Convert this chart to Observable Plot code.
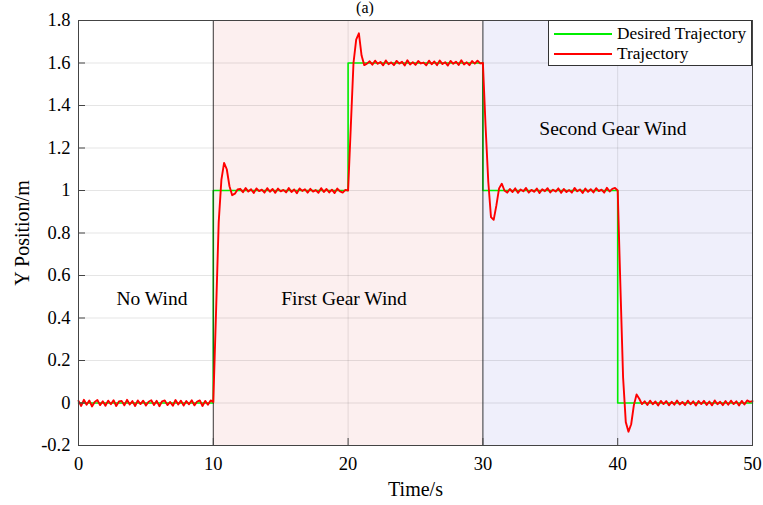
<!DOCTYPE html>
<html>
<head>
<meta charset="utf-8">
<script src="https://cdn.jsdelivr.net/npm/d3@7"></script>
<script src="https://cdn.jsdelivr.net/npm/@observablehq/plot@0.6"></script>
<style>
  html, body { margin: 0; padding: 0; background: #fff; overflow: hidden; }
  #wrap { position: relative; width: 763px; height: 505px; font-family: 'Liberation Serif', 'Times New Roman', serif; }
  #wrap svg, #wrap svg text { font-family: 'Liberation Serif', 'Times New Roman', serif !important; }
  #title { position: absolute; left: 365px; top: 0px; transform: translateX(-50%); font-size: 16px; line-height: 16px; }
  #legend { position: absolute; left: 548px; top: 20px; width: 204px; height: 46px; border: 1px solid #333; background: #fff; box-sizing: border-box; font-size: 17.3px; }
  #legend .row { position: absolute; left: 5px; height: 20px; display: flex; align-items: center; }
  #legend .sw { width: 58px; height: 2px; margin-right: 5px; }
</style>
</head>
<body>
<div id="wrap">
  <div id="title">(a)</div>
</div>
<script>
// Desired (reference) step trajectory: breakpoints and levels
const stepTimes  = [0, 10, 20, 30, 40, 50];
const stepLevels = [0, 1, 1.6, 1, 0, 0];

// Measured trajectory, sampled every 0.2 s, split into segments by start time
const sampleStep = 0.2;
const noWindHold = [
  0.01,-0.014,0.015,-0.008,0.012,-0.016,0.005,0.014,-0.01,0.008,
  -0.013,0.011,-0.006,0.013,-0.014,0.007,0.01,-0.011,0.015,-0.007,
  0.009,-0.014,0.012,-0.005,0.011,-0.012,0.006,0.013,-0.009,0.01,
  -0.015,0.008,0.012,-0.01,0.005,-0.013,0.014,-0.007,0.011,-0.012,
  0.009,-0.006,0.013,-0.011,0.007,0.012,-0.014,0.01,-0.008,0.012
];                                   // t = 0.0 … 9.8
const riseTo1 = [0.005,0.42,0.85,1.05,1.13,1.1,1.02,0.978,0.985,1.005];   // t = 10.0 … 11.8
const hold1 = [
  1.008,0.992,1.012,0.995,1.006,0.988,1.01,0.997,1.004,0.99,
  1.011,0.994,1.007,0.989,1.009,0.996,1.003,0.991,1.012,0.993,
  1.005,0.987,1.01,0.998,1.006,0.99,1.008,0.995,1.002,0.989,
  1.011,0.993,1.007,0.991,1.004,0.988,1.009,0.996,0.99,1.003
];                                   // t = 12.0 … 19.8
const riseTo16 = [1.0,1.3,1.6,1.71,1.74,1.635,1.59,1.597];               // t = 20.0 … 21.4
const hold16 = [
  1.608,1.592,1.611,1.596,1.605,1.589,1.612,1.594,1.603,1.59,
  1.61,1.597,1.606,1.588,1.613,1.593,1.604,1.591,1.609,1.598,
  1.602,1.589,1.611,1.594,1.607,1.59,1.612,1.595,1.604,1.588,
  1.61,1.596,1.606,1.591,1.613,1.593,1.603,1.59,1.609,1.597,
  1.611,1.598
];                                   // t = 21.6 … 29.8
const dropTo1 = [1.6,1.3,1.04,0.875,0.862,0.93,1.01,1.032,1.0,0.99];      // t = 30.0 … 31.8
const hold1b = [
  1.007,0.993,1.01,0.989,1.005,0.996,1.012,0.99,1.003,0.994,
  1.009,0.988,1.006,0.997,1.011,0.991,1.004,0.995,1.01,0.989,
  1.007,0.993,1.002,0.99,1.012,0.996,1.005,0.988,1.009,0.994,
  1.006,0.991,1.011,0.997,1.004,0.99,1.013,0.995,1.008,1.012
];                                   // t = 32.0 … 39.8
const dropTo0 = [1.0,0.55,0.12,-0.09,-0.135,-0.1,-0.01,0.04,0.02,-0.005]; // t = 40.0 … 41.8
const hold0 = [
  0.008,-0.009,0.011,-0.006,0.007,-0.012,0.01,-0.005,0.009,-0.011,
  0.006,-0.008,0.012,-0.007,0.005,-0.01,0.011,-0.006,0.008,-0.012,
  0.009,-0.005,0.01,-0.009,0.007,-0.011,0.012,-0.006,0.006,-0.01,
  0.009,-0.008,0.011,-0.005,0.008,-0.012,0.01,-0.007,0.012,0.005,0.009
];                                   // t = 42.0 … 50.0

const segments = [
  [0, noWindHold], [10, riseTo1], [12, hold1], [20, riseTo16], [21.6, hold16],
  [30, dropTo1], [32, hold1b], [40, dropTo0], [42, hold0]
];

// Wind phases and annotation labels
const phaseStarts = [10, 30];
const phaseEnds   = [30, 50];
const phaseFills  = ["#fcefef", "#efeffb"];
const phaseNames  = ["No Wind", "First Gear Wind", "Second Gear Wind"];
const phaseNameX  = [5.45, 19.7, 39.65];
const phaseNameY  = [0.49, 0.49, 1.29];

// Axis ticks
const xTicks = [0, 10, 20, 30, 40, 50];
const yTicks = [-0.2, 0, 0.2, 0.4, 0.6, 0.8, 1, 1.2, 1.4, 1.6, 1.8];

const trajectory = segments.flatMap(([start, vals]) =>
  vals.map((y, i) => ({t: +(start + i * sampleStep).toFixed(2), y})));
const desired = stepTimes.map((t, i) => ({t, y: stepLevels[i]}));
const phases = phaseStarts.map((x1, i) => ({x1, x2: phaseEnds[i], fill: phaseFills[i]}));
const names = phaseNames.map((text, i) => ({text, x: phaseNameX[i], y: phaseNameY[i]}));

const fmt = d => (Math.round(d * 10) / 10).toString();

const chart = Plot.plot({
  width: 763,
  height: 505,
  marginLeft: 78,
  marginRight: 11,
  marginTop: 20,
  marginBottom: 60,
  style: {fontFamily: "'Liberation Serif', 'Times New Roman', serif", fontSize: "18px", color: "#000", background: "transparent"},
  x: {domain: [0, 50]},
  y: {domain: [-0.2, 1.8]},
  marks: [
    Plot.rect(phases, {x1: "x1", x2: "x2", fill: "fill"}),
    Plot.gridX(xTicks, {stroke: "#000", strokeOpacity: 0.1, strokeWidth: 1}),
    Plot.gridY(yTicks, {stroke: "#000", strokeOpacity: 0.1, strokeWidth: 1}),
    Plot.line(desired, {x: "t", y: "y", curve: "step-after", stroke: "#00ee00", strokeWidth: 1.6}),
    Plot.ruleX(phaseStarts, {stroke: "#222", strokeWidth: 1, strokeOpacity: 0.85}),
    Plot.line(trajectory, {x: "t", y: "y", stroke: "#ff0000", strokeWidth: 1.9, strokeLinejoin: "round"}),
    Plot.text(names, {x: "x", y: "y", text: "text", fontSize: 19.5, fill: "#000"}),
    Plot.frame({stroke: "#444", strokeWidth: 1}),
    Plot.axisX(xTicks, {tickSize: -7, tickPadding: 18, tickFormat: fmt, stroke: "#444", fontSize: 18.5,
      label: null}),
    Plot.axisY(yTicks, {tickSize: -7, tickPadding: 15, tickFormat: fmt, stroke: "#444", fontSize: 18.5,
      label: null}),
    Plot.axisX({ticks: [], label: "Time/s", labelAnchor: "center", labelArrow: "none", labelOffset: 50, fontSize: 20}),
    Plot.axisY({ticks: [], label: "Y Position/m", labelAnchor: "center", labelArrow: "none", labelOffset: 64, fontSize: 20})
  ]
});

const wrap = document.getElementById("wrap");
wrap.insertBefore(chart, wrap.firstChild);

// Legend box in the upper-right corner of the frame
const legend = document.createElement("div");
legend.id = "legend";
[["Desired Trajectory", "#00ee00", 3], ["Trajectory", "#ff0000", 23]].forEach(([label, color, top]) => {
  const row = document.createElement("div");
  row.className = "row";
  row.style.top = top + "px";
  const sw = document.createElement("span");
  sw.className = "sw";
  sw.style.background = color;
  row.appendChild(sw);
  row.appendChild(document.createTextNode(label));
  legend.appendChild(row);
});
wrap.appendChild(legend);
</script>
</body>
</html>
